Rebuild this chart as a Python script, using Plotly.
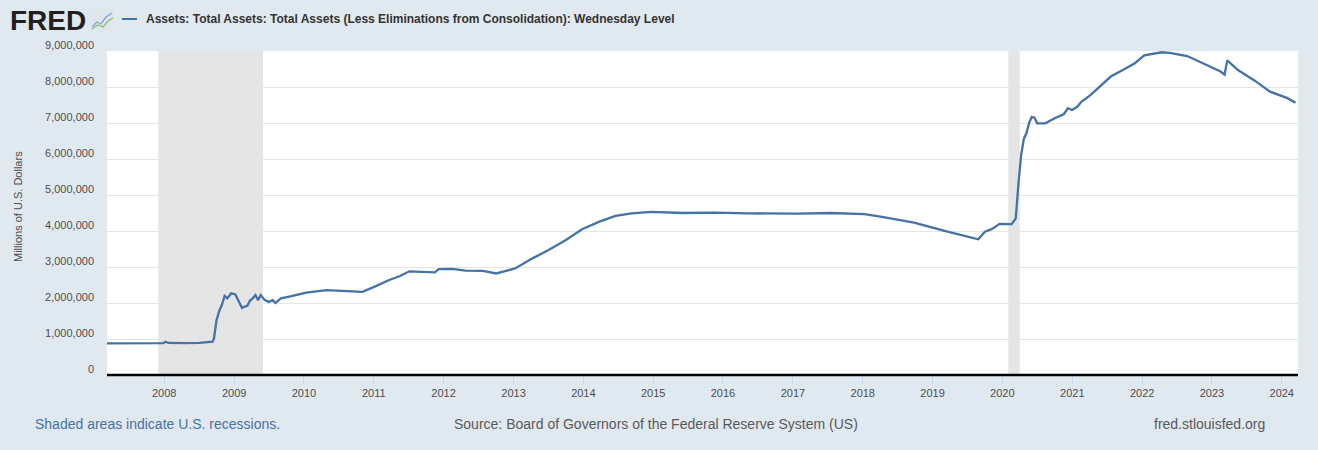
import plotly.graph_objects as go

# ---- data (Millions of U.S. Dollars, Wednesday level) ----
dates = [
    "2007-03-07", "2007-06-27", "2007-10-03", "2007-12-26", "2008-01-09", "2008-01-23",
    "2008-04-16", "2008-07-02", "2008-09-10", "2008-09-17", "2008-10-01", "2008-10-15",
    "2008-10-29", "2008-11-12", "2008-11-26", "2008-12-17", "2009-01-07", "2009-01-21",
    "2009-02-11", "2009-02-25", "2009-03-11", "2009-03-25", "2009-04-08", "2009-04-22",
    "2009-05-06", "2009-05-20", "2009-06-10", "2009-07-01", "2009-07-22", "2009-08-05",
    "2009-09-02", "2009-10-28", "2010-01-13", "2010-04-28", "2010-08-11", "2010-11-03",
    "2011-01-12", "2011-03-23", "2011-05-18", "2011-07-06", "2011-11-16", "2011-12-07",
    "2012-02-15", "2012-04-25", "2012-07-25", "2012-10-03", "2012-12-12", "2013-01-09",
    "2013-04-10", "2013-07-03", "2013-10-02", "2013-12-25", "2014-03-26", "2014-06-18",
    "2014-09-10", "2014-12-24", "2015-06-03", "2015-11-18", "2016-05-11", "2017-01-25",
    "2017-07-19", "2018-01-10", "2018-04-04", "2018-09-26", "2019-03-20", "2019-08-28",
    "2019-10-02", "2019-11-06", "2019-12-18", "2020-02-19", "2020-03-11", "2020-03-18",
    "2020-03-25", "2020-04-08", "2020-04-22", "2020-05-06", "2020-05-20", "2020-06-03",
    "2020-06-17", "2020-07-01", "2020-08-12", "2020-10-01", "2020-11-18", "2020-12-09",
    "2020-12-30", "2021-01-27", "2021-02-17", "2021-04-07", "2021-05-26", "2021-07-21",
    "2021-09-29", "2021-11-24", "2022-01-12", "2022-03-23", "2022-04-13", "2022-05-25",
    "2022-08-24", "2022-11-23", "2023-02-15", "2023-03-08", "2023-03-22", "2023-05-17",
    "2023-08-09", "2023-11-01", "2024-01-31", "2024-03-13",
]
values = [
    880000, 875000, 872000, 885000, 925000, 890000,
    885000, 895000, 925000, 1000000, 1530000, 1780000,
    1950000, 2200000, 2130000, 2270000, 2240000, 2080000,
    1860000, 1900000, 1920000, 2070000, 2130000, 2220000,
    2080000, 2220000, 2080000, 2030000, 2080000, 2000000,
    2130000, 2190000, 2290000, 2360000, 2340000, 2310000,
    2470000, 2640000, 2750000, 2880000, 2850000, 2940000,
    2950000, 2900000, 2890000, 2820000, 2920000, 2960000,
    3240000, 3470000, 3750000, 4050000, 4260000, 4420000,
    4490000, 4530000, 4500000, 4510000, 4490000, 4480000,
    4500000, 4470000, 4400000, 4230000, 3980000, 3770000,
    3980000, 4050000, 4200000, 4190000, 4350000, 4900000,
    5300000, 6100000, 6550000, 6720000, 7000000, 7170000,
    7150000, 6990000, 6990000, 7130000, 7250000, 7410000,
    7360000, 7450000, 7590000, 7780000, 8010000, 8290000,
    8490000, 8660000, 8880000, 8950000, 8965000, 8950000,
    8860000, 8640000, 8430000, 8340000, 8740000, 8470000,
    8190000, 7870000, 7690000, 7560000,
]
recessions = [("2007-12-01", "2009-06-01"), ("2020-02-01", "2020-04-01")]
x_range = ["2007-03-08", "2024-03-26"]
y_ticks = [0, 1000000, 2000000, 3000000, 4000000, 5000000, 6000000, 7000000, 8000000, 9000000]

series_name = "Assets: Total Assets: Total Assets (Less Eliminations from Consolidation): Wednesday Level"

FONT = "Liberation Sans"
LINE = "#4572a7"

# plot area in pixels
L, R, T, B = 107, 1298, 51, 375


def X(px):
    return (px - L) / (R - L)


def Y(py):
    return (B - py) / (B - T)


fig = go.Figure()
fig.add_trace(go.Scatter(x=dates, y=values, mode="lines", name=series_name,
                         line=dict(color=LINE, width=2.3)))

shapes = []
for a, b in recessions:
    shapes.append(dict(type="rect", xref="x", yref="paper", x0=a, x1=b, y0=0, y1=1,
                       fillcolor="#e5e5e5", line=dict(width=0), layer="between"))
# baseline
shapes.append(dict(type="line", xref="paper", yref="paper", x0=0, x1=1, y0=0, y1=0,
                   line=dict(color="#000000", width=2.5), layer="above"))
# legend swatch
shapes.append(dict(type="line", xref="paper", yref="paper", x0=X(122), x1=X(137),
                   y0=Y(19), y1=Y(19), line=dict(color=LINE, width=2)))
# FRED icon
shapes.append(dict(type="rect", xref="paper", yref="paper", x0=X(90), x1=X(114),
                   y0=Y(31), y1=Y(9), fillcolor="#dfe6ec", line=dict(width=0)))


def path(pts):
    return "M " + " L ".join(f"{X(a)},{Y(b)}" for a, b in pts)


shapes.append(dict(type="path", xref="paper", yref="paper",
                   path=path([(92, 27), (97, 22), (101, 24), (106, 17), (112, 13)]),
                   line=dict(color="#7fa7d6", width=1.3)))
shapes.append(dict(type="path", xref="paper", yref="paper",
                   path=path([(92, 29), (98, 25), (103, 27), (108, 21), (113, 18)]),
                   line=dict(color="#8cc06a", width=1.3)))

annotations = [
    dict(text="<b>FRED</b>", x=X(8), y=Y(20), xanchor="left", yanchor="middle",
         font=dict(family=FONT, size=28, color="#231f20")),
    dict(text="<b>" + series_name + "</b>", x=X(144), y=Y(19), xanchor="left", yanchor="middle",
         font=dict(family=FONT, size=12, color="#333333")),
    dict(text="Millions of U.S. Dollars", x=X(18), y=Y(207), xanchor="center", yanchor="middle",
         textangle=-90, font=dict(family=FONT, size=11, color="#4d4d4d")),
    dict(text="Shaded areas indicate U.S. recessions.", x=X(33), y=Y(424), xanchor="left",
         yanchor="middle", font=dict(family=FONT, size=14, color="#4472a8")),
    dict(text="Source: Board of Governors of the Federal Reserve System (US)", x=X(452), y=Y(424),
         xanchor="left", yanchor="middle", font=dict(family=FONT, size=14, color="#595959")),
    dict(text="fred.stlouisfed.org", x=X(1267), y=Y(424), xanchor="right", yanchor="middle",
         font=dict(family=FONT, size=14, color="#595959")),
]
for an in annotations:
    an.update(xref="paper", yref="paper", showarrow=False)

fig.update_layout(
    width=1318, height=450,
    margin=dict(l=L, r=1318 - R, t=T, b=450 - B, pad=0),
    paper_bgcolor="#e1e9f0", plot_bgcolor="#ffffff",
    showlegend=False,
    shapes=shapes, annotations=annotations,
    font=dict(family=FONT, size=11, color="#4d4d4d"),
    xaxis=dict(type="date", range=x_range, tick0="2008-01-01", dtick="M12", tickformat="%Y",
               ticks="outside", ticklen=8, tickcolor="#ccd6eb", tickwidth=1,
               showgrid=False, zeroline=False, showline=False,
               tickfont=dict(family=FONT, size=11, color="#4d4d4d")),
    yaxis=dict(range=[0, 9000000], tickvals=y_ticks, tickformat=",",
               showgrid=True, gridcolor="#e6e6e6", gridwidth=1,
               zeroline=False, showline=False, ticks="",
               ticklabelstandoff=12, ticklabelshift=-6,
               tickfont=dict(family=FONT, size=11, color="#4d4d4d")),
)

fig.write_html("out.html", config={"displayModeBar": False},
               post_script="document.body.style.margin='0';document.body.style.background='#e1e9f0';")
